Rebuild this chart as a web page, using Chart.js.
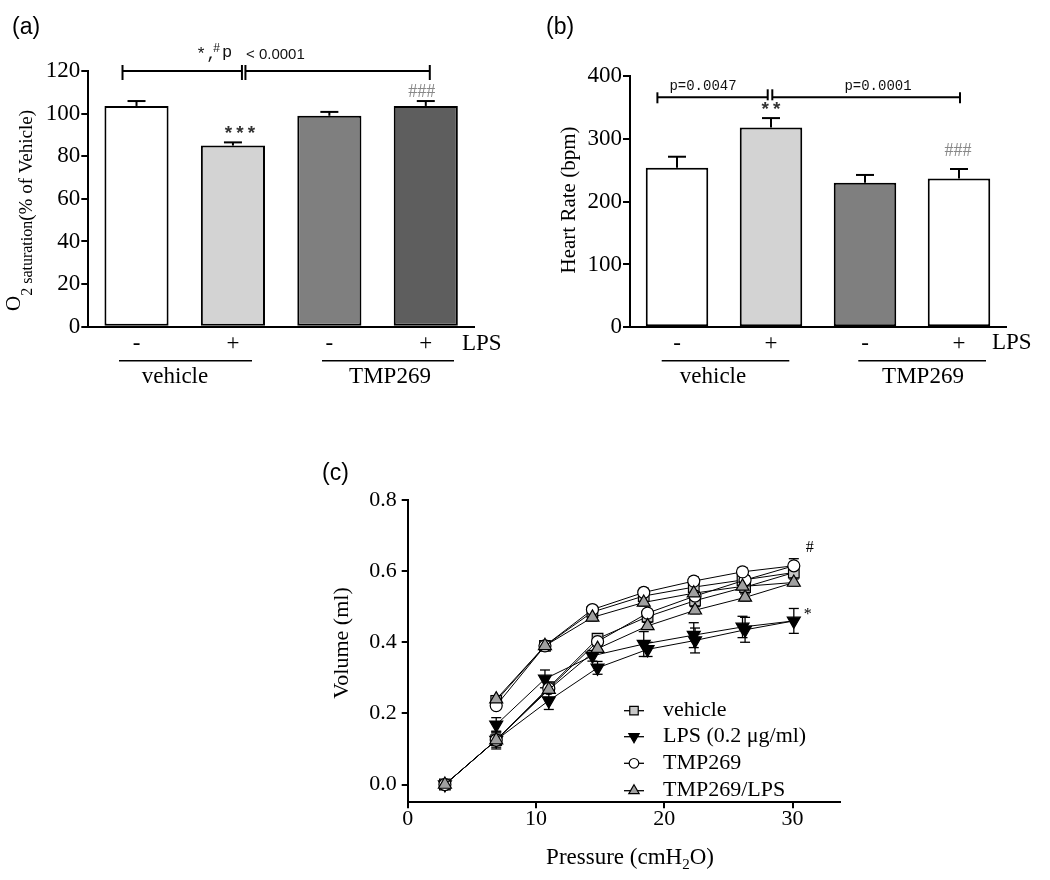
<!DOCTYPE html>
<html>
<head>
<meta charset="utf-8">
<script src="https://cdn.jsdelivr.net/npm/chart.js@4/dist/chart.umd.min.js"></script>
<style>
  body { margin: 0; background: #fff; }
  #wrap { position: relative; width: 1050px; height: 880px; }
  canvas { position: absolute; left: 0; top: 0; }
</style>
</head>
<body>
<div id="wrap">
  <canvas id="chartA" width="1050" height="880"></canvas>
  <canvas id="chartB" width="1050" height="880"></canvas>
  <canvas id="chartC" width="1050" height="880"></canvas>
</div>
<script>
// (a) O2 saturation, % of vehicle
const lpsLabels = ["-", "+", "-", "+"];
const o2Values = [103.6, 85.0, 99.0, 103.6];
const o2Errors = [2.3, 1.5, 1.8, 2.3];
const o2Colors = ["#ffffff", "#d3d3d3", "#7f7f7f", "#5e5e5e"];
const o2Ticks = [0, 20, 40, 60, 80, 100, 120];

// (b) heart rate, bpm
const hrValues = [254, 318, 230, 237];
const hrErrors = [17.5, 15, 12.5, 15];
const hrColors = ["#ffffff", "#d3d3d3", "#7f7f7f", "#ffffff"];
const hrTicks = [0, 100, 200, 300, 400];

// (c) pressure-volume loops: inflation 3 -> 30, then deflation back to 7
const pressure    = [2.9, 6.9, 11.0, 14.8, 18.7, 22.4, 26.3, 30.1, 26.1, 22.3, 18.4, 14.4, 10.7, 6.9];
const volVehicle  = [0, 0.125, 0.273, 0.410, 0.472, 0.517, 0.555, 0.596, 0.575, 0.555, 0.530, 0.485, 0.390, 0.235];
const volLps      = [0, 0.125, 0.236, 0.328, 0.380, 0.405, 0.435, 0.460, 0.443, 0.420, 0.395, 0.362, 0.297, 0.168];
const volTmp      = [0, 0.125, 0.270, 0.402, 0.482, 0.530, 0.575, 0.615, 0.598, 0.572, 0.540, 0.492, 0.390, 0.222];
const volTmpLps   = [0, 0.125, 0.267, 0.382, 0.446, 0.490, 0.526, 0.568, 0.557, 0.538, 0.512, 0.470, 0.390, 0.240];
const errVehicle  = [0, 0.025, 0.015, 0.01, 0.01, 0.01, 0.01, 0.012, 0.01, 0.01, 0.01, 0.01, 0.01, 0.01];
const errLps      = [0, 0.02, 0.025, 0.018, 0.02, 0.035, 0.035, 0.035, 0.03, 0.035, 0.035, 0.015, 0.025, 0.02];
const errTmp      = [0, 0.01, 0.01, 0.01, 0.01, 0.01, 0.012, 0.02, 0.012, 0.012, 0.012, 0.01, 0.01, 0.01];
const errTmpLps   = [0, 0.01, 0.01, 0.01, 0.01, 0.01, 0.01, 0.01, 0.01, 0.01, 0.01, 0.01, 0.01, 0.01];
const pvLabels = ["vehicle", "LPS (0.2 \u03bcg/ml)", "TMP269", "TMP269/LPS"];
const pressureTicks = [0, 10, 20, 30];
const volumeTicks = [0, 0.2, 0.4, 0.6, 0.8];

const SERIF = "Liberation Serif";
const W = 1050, H = 880;

function txt(ctx, s, x, y, font, align, color) {
  ctx.font = font;
  ctx.fillStyle = color || "#000";
  ctx.textAlign = align || "center";
  ctx.textBaseline = "middle";
  ctx.fillText(s, x, y);
}
function line(ctx, x1, y1, x2, y2, w, color) {
  ctx.beginPath();
  ctx.lineWidth = w || 2;
  ctx.strokeStyle = color || "#000";
  ctx.moveTo(x1, y1); ctx.lineTo(x2, y2);
  ctx.stroke();
}
function vtext(ctx, s, cx, cy, font) {
  ctx.save();
  ctx.translate(cx, cy);
  ctx.rotate(-Math.PI / 2);
  txt(ctx, s, 0, 0, font);
  ctx.restore();
}

// upward error bars on the bars
const barErrors = {
  id: "barErrors",
  afterDatasetsDraw(chart, args, opts) {
    const ctx = chart.ctx, ys = chart.scales.y;
    chart.getDatasetMeta(0).data.forEach((bar, i) => {
      const top = ys.getPixelForValue(opts.values[i] + opts.errors[i]);
      line(ctx, bar.x, bar.y, bar.x, top, 2);
      line(ctx, bar.x - 9, top, bar.x + 9, top, 2);
    });
  }
};

function barChart(id, area, values, errors, colors, ticks, maxV, extra) {
  return new Chart(document.getElementById(id), {
    type: "bar",
    data: {
      labels: lpsLabels,
      datasets: [{
        data: values,
        backgroundColor: colors,
        borderColor: "#000",
        borderWidth: 2,
        borderSkipped: false,
        barPercentage: 0.665,
        categoryPercentage: 1
      }]
    },
    options: {
      responsive: false,
      animation: false,
      layout: { padding: { left: 0, top: area.top, right: W - area.right, bottom: H - area.bottom - 60 } },
      scales: {
        x: {
          afterFit(s) { s.height = 60; },
          grid: { drawOnChartArea: false, drawTicks: false, color: "#000" },
          border: { color: "#000", width: 2 },
          ticks: { color: "#000", padding: 3, font: { family: SERIF, size: 23 } }
        },
        y: {
          min: 0, max: maxV,
          afterFit(s) { s.width = area.left; },
          afterBuildTicks(s) { s.ticks = ticks.map(v => ({ value: v })); },
          grid: { drawOnChartArea: false, tickLength: 7, color: "#000", lineWidth: 2 },
          border: { color: "#000", width: 2 },
          ticks: { color: "#000", padding: 1, font: { family: SERIF, size: 23 } }
        }
      },
      plugins: {
        legend: { display: false },
        tooltip: { enabled: false },
        barErrors: { values, errors }
      }
    },
    plugins: [barErrors, extra]
  });
}

// panel (a) annotations
const annotA = {
  id: "annotA",
  afterDraw(chart) {
    const ctx = chart.ctx, xs = chart.scales.x, ys = chart.scales.y;
    const x0 = xs.getPixelForValue(0), x1 = xs.getPixelForValue(1), x3 = xs.getPixelForValue(3);
    const yb = ys.getPixelForValue(120);
    txt(ctx, "(a)", 12, 28, "23px Liberation Sans", "left");
    // bracket
    line(ctx, x0 - 14, yb, x1 + 9, yb, 2);
    line(ctx, x1 + 12.5, yb, x3 + 4, yb, 2);
    [x0 - 14, x1 + 9, x1 + 12.5, x3 + 4].forEach(x => line(ctx, x, yb - 6, x, yb + 9, 2));
    ctx.textBaseline = "alphabetic"; ctx.textAlign = "left"; ctx.fillStyle = "#111";
    ctx.font = "17px Liberation Mono"; ctx.fillText("*,", 196, 59);
    ctx.font = "12px Liberation Mono"; ctx.fillText("#", 213, 52);
    ctx.font = "17px Liberation Mono"; ctx.fillText("p", 222, 57);
    ctx.font = "15px Liberation Sans"; ctx.fillText("< 0.0001", 246, 59);
    // significance marks
    txt(ctx, "***", x1 + 7, 134, "bold 19px Liberation Mono", "center", "#333");
    txt(ctx, "###", x3 - 4, 92, "18px " + SERIF, "center", "#888");
    // group labels
    txt(ctx, "LPS", 462, 344, "23px " + SERIF, "left");
    line(ctx, 119, 360.7, 252, 360.7, 1.5);
    line(ctx, 322, 360.7, 454, 360.7, 1.5);
    txt(ctx, "vehicle", 175, 377, "23px " + SERIF);
    txt(ctx, "TMP269", 390, 377, "23px " + SERIF);
    // y title: O2 saturation(% of Vehicle)
    ctx.save();
    ctx.translate(20, 311);
    ctx.rotate(-Math.PI / 2);
    ctx.textAlign = "left"; ctx.textBaseline = "alphabetic"; ctx.fillStyle = "#000";
    ctx.font = "21px " + SERIF; ctx.fillText("O", 0, 0);
    let pos = ctx.measureText("O").width;
    ctx.font = "16px " + SERIF; ctx.fillText("2 saturation", pos, 12);
    pos += ctx.measureText("2 saturation").width;
    ctx.font = "19px " + SERIF; ctx.fillText("(% of Vehicle)", pos, 12);
    ctx.restore();
  }
};

// panel (b) annotations
const annotB = {
  id: "annotB",
  afterDraw(chart) {
    const ctx = chart.ctx, xs = chart.scales.x;
    const x0 = xs.getPixelForValue(0), x1 = xs.getPixelForValue(1), x3 = xs.getPixelForValue(3);
    txt(ctx, "(b)", 546, 28, "23px Liberation Sans", "left");
    const yb = 97.3;
    line(ctx, x0 - 19.6, yb, x1 - 3.3, yb, 2);
    line(ctx, x1 + 1.3, yb, x3 + 1, yb, 2);
    line(ctx, x0 - 19.6, yb - 5, x0 - 19.6, yb + 6, 2);
    line(ctx, x3 + 1, yb - 5, x3 + 1, yb + 6, 2);
    line(ctx, x1 - 3.3, yb - 8, x1 - 3.3, yb + 3, 2);
    line(ctx, x1 + 1.3, yb - 8, x1 + 1.3, yb + 3, 2);
    txt(ctx, "p=0.0047", 703, 86, "14px Liberation Mono", "center", "#111");
    txt(ctx, "p=0.0001", 878, 86, "14px Liberation Mono", "center", "#111");
    txt(ctx, "**", x1, 110, "bold 19px Liberation Mono", "center", "#333");
    txt(ctx, "###", x3 - 1, 151, "18px " + SERIF, "center", "#888");
    txt(ctx, "LPS", 992, 343, "23px " + SERIF, "left");
    line(ctx, 661.7, 360.7, 789.3, 360.7, 1.5);
    line(ctx, 858.3, 360.7, 986, 360.7, 1.5);
    txt(ctx, "vehicle", 713, 377, "23px " + SERIF);
    txt(ctx, "TMP269", 923, 377, "23px " + SERIF);
    vtext(ctx, "Heart Rate (bpm)", 569, 200, "21px " + SERIF);
  }
};

barChart("chartA", { left: 88.3, top: 71, right: 474, bottom: 326.7 }, o2Values, o2Errors, o2Colors, o2Ticks, 120, annotA);
barChart("chartB", { left: 630, top: 76, right: 1006, bottom: 327.3 }, hrValues, hrErrors, hrColors, hrTicks, 400, annotB);

// panel (c)
const pvStyles = [
  { pointStyle: "rect", rotation: 0, radius: 7.5, fill: "#c8c8c8", order: 3 },
  { pointStyle: "triangle", rotation: 180, radius: 7.5, fill: "#000", order: 2 },
  { pointStyle: "circle", rotation: 0, radius: 6, fill: "#fff", order: 1 },
  { pointStyle: "triangle", rotation: 0, radius: 7.5, fill: "#a0a0a0", order: 0 }
];
const pvSeries = [volVehicle, volLps, volTmp, volTmpLps];
const pvErrors = [errVehicle, errLps, errTmp, errTmpLps];

const pvErrorBars = {
  id: "pvErrorBars",
  beforeDatasetsDraw(chart) {
    const ctx = chart.ctx, ys = chart.scales.y;
    chart.data.datasets.forEach((ds, di) => {
      chart.getDatasetMeta(di).data.forEach((pt, i) => {
        const e = ds.errors[i];
        if (!e) return;
        const v = ds.data[i].y;
        const y1 = ys.getPixelForValue(v + e), y2 = ys.getPixelForValue(v - e);
        line(ctx, pt.x, y1, pt.x, y2, 1.3);
        line(ctx, pt.x - 5, y1, pt.x + 5, y1, 1.3);
        line(ctx, pt.x - 5, y2, pt.x + 5, y2, 1.3);
      });
    });
  }
};

const annotC = {
  id: "annotC",
  afterDraw(chart) {
    const ctx = chart.ctx;
    txt(ctx, "(c)", 322, 474, "23px Liberation Sans", "left");
    vtext(ctx, "Volume (ml)", 342, 643, "22px " + SERIF);
    // x title with subscript
    ctx.save();
    ctx.textBaseline = "alphabetic"; ctx.textAlign = "left"; ctx.fillStyle = "#000";
    ctx.font = "23px " + SERIF;
    const a = "Pressure (cmH", b = "O)";
    const wa = ctx.measureText(a).width, wb = ctx.measureText(b).width;
    ctx.font = "15px " + SERIF;
    const ws = ctx.measureText("2").width;
    const x = 630 - (wa + ws + wb) / 2;
    const base = 864;
    ctx.font = "23px " + SERIF; ctx.fillText(a, x, base);
    ctx.font = "15px " + SERIF; ctx.fillText("2", x + wa, base + 5);
    ctx.font = "23px " + SERIF; ctx.fillText(b, x + wa + ws, base);
    ctx.restore();
    // legend
    const ly = [710.7, 736.7, 763.3, 790.7];
    chart.data.datasets.forEach((ds, i) => {
      const st = pvStyles[i];
      line(ctx, 624, ly[i], 644, ly[i], 1.3);
      ctx.save();
      ctx.fillStyle = st.fill; ctx.strokeStyle = "#000"; ctx.lineWidth = 1.2;
      Chart.helpers.drawPoint(ctx, { pointStyle: st.pointStyle, rotation: st.rotation, radius: st.radius * 0.8, borderWidth: 1.2 }, 634, ly[i]);
      ctx.restore();
      txt(ctx, ds.label, 663, ly[i], "22px " + SERIF, "left");
    });
    // significance marks at the top of the loops
    const m2 = chart.getDatasetMeta(2).data[7], m1 = chart.getDatasetMeta(1).data[7];
    txt(ctx, "#", m2.x + 16, m2.y - 18, "16px " + SERIF, "center");
    txt(ctx, "*", m1.x + 14, m1.y - 6, "16px " + SERIF, "center");
  }
};

new Chart(document.getElementById("chartC"), {
  type: "scatter",
  data: {
    datasets: pvSeries.map((vals, i) => ({
      label: pvLabels[i],
      data: pressure.map((p, j) => ({ x: p, y: vals[j] })),
      errors: pvErrors[i],
      showLine: true,
      tension: 0,
      borderColor: "#000",
      borderWidth: 1,
      pointStyle: pvStyles[i].pointStyle,
      rotation: pvStyles[i].rotation,
      pointRadius: pvStyles[i].radius,
      pointBackgroundColor: pvStyles[i].fill,
      pointBorderColor: "#000",
      pointBorderWidth: 1.2,
      order: pvStyles[i].order
    }))
  },
  options: {
    responsive: false,
    animation: false,
    layout: { padding: { left: 0, top: 500, right: W - 840, bottom: H - 802.3 - 50 } },
    scales: {
      x: {
        type: "linear", min: 0, max: 33.7,
        afterFit(s) { s.height = 50; },
        afterBuildTicks(s) { s.ticks = pressureTicks.map(v => ({ value: v })); },
        grid: { drawOnChartArea: false, tickLength: 6, color: "#000", lineWidth: 2 },
        border: { color: "#000", width: 2 },
        ticks: { color: "#000", padding: -2, font: { family: SERIF, size: 22 } }
      },
      y: {
        type: "linear", min: -0.05, max: 0.8,
        afterFit(s) { s.width = 407.7; },
        afterBuildTicks(s) { s.ticks = volumeTicks.map(v => ({ value: v })); },
        grid: { drawOnChartArea: false, tickLength: 6, color: "#000", lineWidth: 2 },
        border: { color: "#000", width: 2 },
        ticks: { color: "#000", padding: 5, font: { family: SERIF, size: 22 }, callback: v => v.toFixed(1) }
      }
    },
    plugins: { legend: { display: false }, tooltip: { enabled: false } }
  },
  plugins: [pvErrorBars, annotC]
});
</script>
</body>
</html>
